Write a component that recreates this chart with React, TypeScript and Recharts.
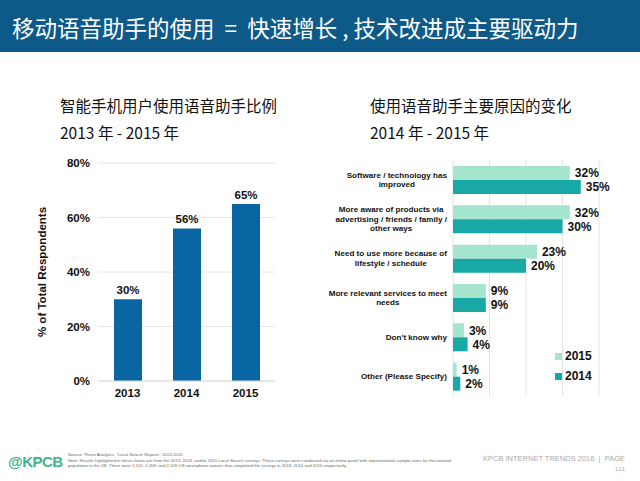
import React from 'react';
import {
  BarChart,
  Bar,
  XAxis,
  YAxis,
  CartesianGrid,
  LabelList,
  Legend,
} from 'recharts';

// left chart: share of smartphone users using voice assistants
const years = ['2013', '2014', '2015'];
const shareValues = [30, 56, 65];
const shareTicks = [0, 20, 40, 60, 80];

// right chart: main reasons for using voice assistants more
const reasons = [
  'Software / technology has\nimproved',
  'More aware of products via\nadvertising / friends / family /\nother ways',
  'Need to use more because of\nlifestyle / schedule',
  'More relevant services to meet\nneeds',
  "Don't know why",
  'Other (Please Specify)',
];
const reasons2015 = [32, 32, 23, 9, 3, 1];
const reasons2014 = [35, 30, 20, 9, 4, 2];
const reasonTicks = [0, 10, 20, 30, 40];

const FONT = '"Liberation Sans", Arial, sans-serif';
const CJK = '"Noto Sans CJK SC", "Noto Sans", sans-serif';

const shareData = years.map((year, i) => ({ year, share: shareValues[i] }));
const reasonData = reasons.map((reason, i) => ({
  reason,
  y2015: reasons2015[i],
  y2014: reasons2014[i],
}));

let measureCtx: CanvasRenderingContext2D | null = null;
function textWidth(text: string, font: string) {
  if (!measureCtx) measureCtx = document.createElement('canvas').getContext('2d');
  if (!measureCtx) return text.length * 4.3;
  measureCtx.font = font;
  return measureCtx.measureText(text).width;
}

function ReasonTick(props: any) {
  const { x, y, payload } = props;
  const lines: string[] = String(payload.value).split('\n');
  const size = 8.1;
  const lh = 9.6;
  const widest = Math.max(...lines.map((l) => textWidth(l, `bold ${size}px Liberation Sans, Arial`)));
  const cx = x + 2 - widest / 2;
  const top = y - ((lines.length - 1) * lh) / 2;
  return (
    <g>
      {lines.map((line, i) => (
        <text
          key={i}
          x={cx}
          y={top + i * lh}
          dy="0.35em"
          textAnchor="middle"
          fontFamily={FONT}
          fontWeight="bold"
          fontSize={size}
          fill="#111"
        >
          {line}
        </text>
      ))}
    </g>
  );
}

const series = [
  { key: 'y2015', name: '2015', color: '#a6e5cd' },
  { key: 'y2014', name: '2014', color: '#18a9a7' },
];

function ReasonLegend() {
  return (
    <div style={{ fontFamily: FONT, fontWeight: 'bold', fontSize: 12, color: '#111' }}>
      {series.map((s) => (
        <div key={s.key} style={{ display: 'flex', alignItems: 'center', height: 20 }}>
          <span style={{ width: 7, height: 7, background: s.color, marginRight: 3 }} />
          {s.name}
        </div>
      ))}
    </div>
  );
}

export default function App() {
  return (
    <div
      style={{
        position: 'absolute',
        left: 0,
        top: 0,
        width: 640,
        height: 481,
        background: '#fff',
        overflow: 'hidden',
      }}
    >
      {/* header band */}
      <div
        style={{
          position: 'absolute',
          left: 0,
          top: 0,
          width: 640,
          height: 52,
          background: '#0d5a88',
        }}
      />
      <div
        style={{
          position: 'absolute',
          left: 12,
          top: 12,
          color: '#fff',
          fontFamily: CJK,
          fontSize: 22.5,
          lineHeight: '30px',
          whiteSpace: 'pre',
        }}
      >
        {'移动语音助手的使用  =  快速增长 , 技术改进成主要驱动力'}
      </div>

      {/* subtitles */}
      <div style={{ position: 'absolute', left: 60, top: 92, fontFamily: CJK, fontSize: 15.5, lineHeight: '27px', color: '#111' }}>
        <div>智能手机用户使用语音助手比例</div>
        <div>2013 年 - 2015 年</div>
      </div>
      <div style={{ position: 'absolute', left: 370, top: 92, fontFamily: CJK, fontSize: 15.5, lineHeight: '27px', color: '#111' }}>
        <div>使用语音助手主要原因的变化</div>
        <div>2014 年 - 2015 年</div>
      </div>

      {/* left chart */}
      <div style={{ position: 'absolute', left: 30, top: 150 }}>
        <BarChart width={260} height={260} data={shareData} margin={{ top: 13, right: 15, left: 10, bottom: 9 }}>
          <CartesianGrid vertical={false} stroke="#e6e6e6" />
          <XAxis
            dataKey="year"
            axisLine={{ stroke: '#dcdcdc' }}
            tickLine={false}
            tickSize={0}
            tickMargin={8}
            height={20}
            tick={{ fontFamily: FONT, fontWeight: 'bold', fontSize: 11.5, fill: '#111' }}
          />
          <YAxis
            domain={[0, 80]}
            ticks={shareTicks}
            width={58}
            axisLine={false}
            tickLine={false}
            tickSize={0}
            tickMargin={8}
            tickFormatter={(v) => `${v}%`}
            tick={{ fontFamily: FONT, fontWeight: 'bold', fontSize: 11.5, fill: '#111' }}
          />
          <Bar dataKey="share" fill="#0a66a3" barSize={28} isAnimationActive={false}>
            <LabelList
              dataKey="share"
              position="top"
              offset={5}
              formatter={(v: any) => `${v}%`}
              style={{ fontFamily: FONT, fontWeight: 'bold', fontSize: 11.5, fill: '#111' }}
            />
          </Bar>
        </BarChart>
      </div>
      <div
        style={{
          position: 'absolute',
          left: 42,
          top: 272,
          transform: 'translate(-50%, -50%) rotate(-90deg)',
          fontFamily: FONT,
          fontWeight: 'bold',
          fontSize: 11.5,
          whiteSpace: 'nowrap',
          color: '#111',
        }}
      >
        % of Total Respondents
      </div>

      {/* right chart */}
      <div style={{ position: 'absolute', left: 320, top: 150 }}>
        <BarChart
          width={320}
          height={260}
          data={reasonData}
          layout="vertical"
          barGap={0}
          margin={{ top: 10, right: 41, left: 0, bottom: 14 }}
        >
          <CartesianGrid horizontal={false} stroke="#e3e3e3" />
          <XAxis type="number" domain={[0, 40]} ticks={reasonTicks} hide />
          <YAxis
            type="category"
            dataKey="reason"
            width={133}
            axisLine={false}
            tickLine={false}
            interval={0}
            tick={<ReasonTick />}
          />
          <Legend
            layout="horizontal"
            verticalAlign="middle"
            align="center"
            wrapperStyle={{ left: 235, top: 196, width: 60 }}
            content={() => <ReasonLegend />}
          />
          {series.map((s) => (
            <Bar key={s.key} dataKey={s.key} name={s.name} fill={s.color} barSize={14} isAnimationActive={false}>
              <LabelList
                dataKey={s.key}
                position="right"
                offset={5}
                formatter={(v: any) => `${v}%`}
                style={{ fontFamily: FONT, fontWeight: 'bold', fontSize: 12, fill: '#111' }}
              />
            </Bar>
          ))}
        </BarChart>
      </div>

      {/* footer */}
      <div
        style={{
          position: 'absolute',
          left: 8,
          top: 453,
          fontFamily: FONT,
          fontWeight: 'bold',
          fontSize: 15,
          color: '#3db58b',
          letterSpacing: -0.5,
        }}
      >
        @KPCB
      </div>
      <div
        style={{
          position: 'absolute',
          left: 68,
          top: 452,
          fontFamily: FONT,
          fontSize: 4.3,
          lineHeight: '5.6px',
          color: '#666',
          whiteSpace: 'nowrap',
        }}
      >
        <div>Source: Thrive Analytics, "Local Search Reports" 2013-2015.</div>
        <div>
          Note: Results highlighted in these charts are from the 2013, 2014, and/or 2015 Local Search surveys. These surveys were conducted via an online panel with representative sample sizes for the national
        </div>
        <div>
          population in the US. There were 1,102, 2,058, and 2,126 US smartphone owners that completed the surveys in 2013, 2014 and 2015 respectively.
        </div>
      </div>
      <div
        style={{
          position: 'absolute',
          right: 15,
          top: 454,
          fontFamily: FONT,
          fontSize: 7.5,
          lineHeight: '10px',
          color: '#aaa',
          textAlign: 'right',
          whiteSpace: 'nowrap',
        }}
      >
        <div>KPCB INTERNET TRENDS 2016&nbsp;&nbsp;|&nbsp;&nbsp;PAGE</div>
        <div style={{ fontSize: 6 }}>121</div>
      </div>
    </div>
  );
}
